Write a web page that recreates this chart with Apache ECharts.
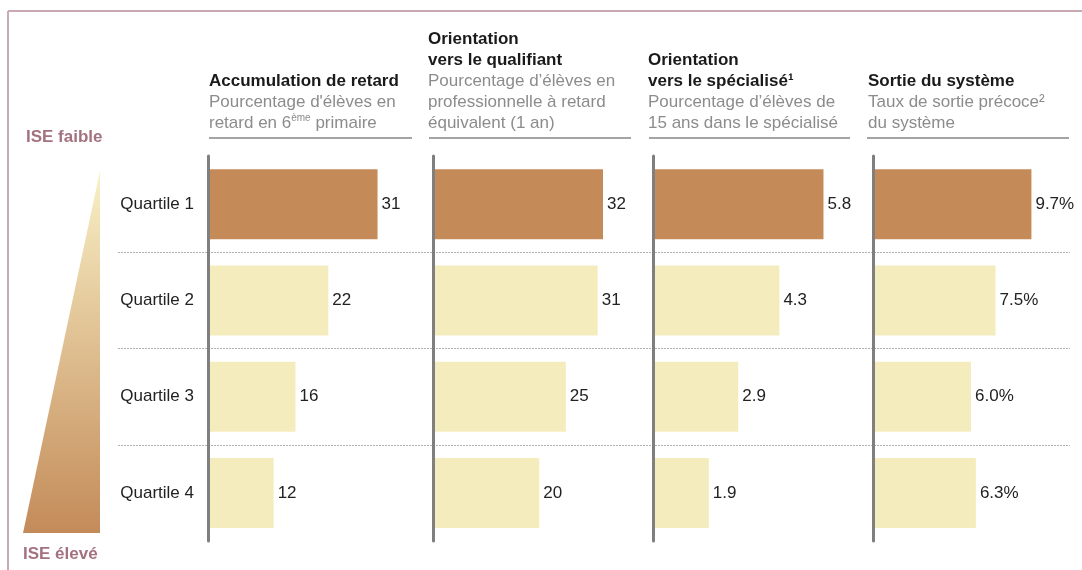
<!DOCTYPE html>
<html>
<head>
<meta charset="utf-8">
<script src="https://cdn.jsdelivr.net/npm/echarts@6/dist/echarts.min.js"></script>
<style>
html,body{margin:0;padding:0;background:#fff;}
#chart{width:1082px;height:570px;}
</style>
</head>
<body>
<div id="chart"></div>
<script>
const categories = ['Quartile 1', 'Quartile 2', 'Quartile 3', 'Quartile 4'];
const retard = [31, 22, 16, 12];
const qualifiant = [32, 31, 25, 20];
const specialise = [5.8, 4.3, 2.9, 1.9];
const sortie = [9.7, 7.5, 6.0, 6.3];
const panelData = [retard, qualifiant, specialise, sortie];

const FONT = 'Liberation Sans, Arial, sans-serif';
const DARK = '#c48b59';
const LIGHT = '#f5ecbd';
const AXIS = '#7f7f7f';

const panelLeft = [208, 433, 653, 873];
const panelMax = [37.3, 38.4, 6.94, 12.49];
const fmt = [
  v => String(v),
  v => String(v),
  v => v.toFixed(1),
  v => v.toFixed(1) + '%'
];

const grids = [], xAxes = [], yAxes = [], series = [];
panelData.forEach((vals, i) => {
  grids.push({ left: panelLeft[i], top: 156, width: 204, height: 385 });
  xAxes.push({ gridIndex: i, type: 'value', min: 0, max: panelMax[i], show: false });
  yAxes.push({
    gridIndex: i, type: 'category', data: categories, inverse: true, z: 5,
    axisLine: { show: true, lineStyle: { color: AXIS, width: 3 } },
    axisTick: { show: false },
    splitLine: { show: false },
    axisLabel: { show: i === 0, fontSize: 17, color: '#222', margin: 14, fontFamily: FONT }
  });
  series.push({
    type: 'bar', xAxisIndex: i, yAxisIndex: i, data: vals, barWidth: 70,
    itemStyle: { color: p => p.dataIndex === 0 ? DARK : LIGHT },
    label: {
      show: true, position: 'right', distance: 4, fontSize: 17, color: '#222',
      fontFamily: FONT, formatter: p => fmt[i](p.value)
    },
    silent: true, animation: false
  });
});

// overlay grid for dotted separators
grids.push({ left: 118, right: 12, top: 156, height: 385 });
xAxes.push({ gridIndex: 4, type: 'value', min: 0, max: 1, show: false });
yAxes.push({
  gridIndex: 4, type: 'value', min: 0, max: 4, interval: 1, z: 0,
  axisLine: { show: false }, axisTick: { show: false }, axisLabel: { show: false },
  splitLine: { show: true, showMinLine: false, showMaxLine: false,
    lineStyle: { color: '#b0b0b0', width: 1, type: [2, 1] } }
});

const rich = {
  b: { fontFamily: FONT, fontSize: 17, fontWeight: 'bold', fill: '#1a1a1a', lineHeight: 21 },
  s: { fontFamily: FONT, fontSize: 17, fill: '#8c8c8c', lineHeight: 21 },
  sup: { fontFamily: FONT, fontSize: 10, fill: '#8c8c8c', lineHeight: 15, verticalAlign: 'top' }
};
function header(x, top, text) {
  return { type: 'text', left: x, top: top, z: 10,
    style: { text: text, rich: rich, fontFamily: FONT, fontSize: 17, fill: '#8c8c8c' } };
}
function uline(x1, x2) {
  return { type: 'line', z: 10, shape: { x1: x1, y1: 138, x2: x2, y2: 138 },
    style: { stroke: '#a4a4a4', lineWidth: 2 } };
}

const graphic = [
  { type: 'line', shape: { x1: 8, y1: 11, x2: 1082, y2: 11 }, style: { stroke: '#c8aab4', lineWidth: 2 } },
  { type: 'line', shape: { x1: 8, y1: 11, x2: 8, y2: 570 }, style: { stroke: '#c8aab4', lineWidth: 2 } },
  header(209, 73, '{b|Accumulation de retard}\n{s|Pourcentage d\'élèves en}\n{s|retard en 6}{sup|ème}{s| primaire}'),
  header(428, 31, '{b|Orientation}\n{b|vers le qualifiant}\n{s|Pourcentage d’élèves en}\n{s|professionnelle à retard}\n{s|équivalent (1 an)}'),
  header(648, 52, '{b|Orientation}\n{b|vers le spécialisé¹}\n{s|Pourcentage d’élèves de}\n{s|15 ans dans le spécialisé}'),
  header(868, 73, '{b|Sortie du système}\n{s|Taux de sortie précoce²}\n{s|du système}'),
  uline(209, 412), uline(429, 631), uline(649, 850), uline(867, 1069),
  { type: 'polygon', shape: { points: [[100, 171], [100, 533], [23, 533]] },
    style: { fill: new echarts.graphic.LinearGradient(0, 0, 0, 1, [
      { offset: 0, color: '#f8f0c6' }, { offset: 1, color: '#c48b59' }]) } },
  { type: 'text', left: 26, top: 129, style: { text: 'ISE faible', fontFamily: FONT, fontSize: 17, fontWeight: 'bold', fill: '#a3717f' } },
  { type: 'text', left: 23, top: 546, style: { text: 'ISE élevé', fontFamily: FONT, fontSize: 17, fontWeight: 'bold', fill: '#a3717f' } }
];

const chart = echarts.init(document.getElementById('chart'), null, { renderer: 'canvas' });
chart.setOption({
  animation: false,
  backgroundColor: '#fff',
  textStyle: { fontFamily: FONT },
  grid: grids, xAxis: xAxes, yAxis: yAxes, series: series, graphic: graphic
});
</script>
</body>
</html>
